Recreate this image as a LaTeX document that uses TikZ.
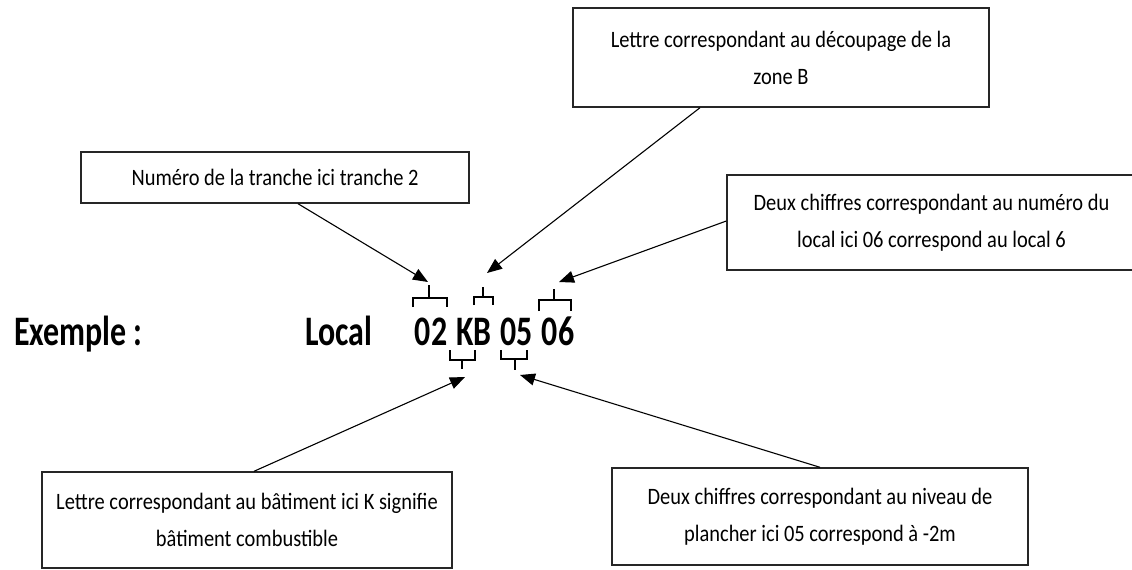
\documentclass[tikz,border=0pt]{standalone}
\usepackage{fontspec}
\setmainfont{Carlito}
\newfontfamily\boxfont[FakeStretch=0.87]{Carlito}
\newfontfamily\bigfont[FakeStretch=0.76]{Carlito}
\usetikzlibrary{arrows.meta}
\begin{document}
\begin{tikzpicture}[x=1pt,y=-1pt,
  box/.style={draw=black!85,line width=1.4pt,align=center,inner sep=0pt,
    font=\boxfont\fontsize{23.5}{37}\selectfont,text=black},
  big/.style={font=\bigfont\fontsize{42}{42}\selectfont\bfseries,inner sep=0pt,anchor=base,text=black},
  brk/.style={draw=black,line width=1.3pt},
  arr/.style={draw=black,line width=1.1pt,-{Triangle[length=15pt,width=12pt]}}]
\useasboundingbox (0,0) rectangle (1132,570);
% boxes
\node[box,minimum width=416pt,minimum height=99pt] (zone) at (781,57.5)
  {Lettre correspondant au découpage de la\\zone B};
\node[box,minimum width=388pt,minimum height=51pt] (tranche) at (275,177.5)
  {Numéro de la tranche ici tranche 2};
\node[box,minimum width=409pt,minimum height=95pt] (local) at (931.5,222.5)
  {Deux chiffres correspondant au numéro du\\local ici 06 correspond au local 6};
\node[box,minimum width=410pt,minimum height=96pt] (bat) at (247,520)
  {Lettre correspondant au bâtiment ici K signifie\\bâtiment combustible};
\node[box,minimum width=416pt,minimum height=97pt] (niv) at (820,516.5)
  {Deux chiffres correspondant au niveau de\\plancher ici 05 correspond à -2m};
% main text
\node[big] (ex) at (78.5,345) {Exemple :};
\node[big] (loc) at (338.5,345) {Local};
\node[big] (c02) at (431,345) {02};
\node[big] (cKB) at (474,345) {KB};
\node[big] (c05) at (516.5,345) {05};
\node[big] (c06) at (558,345) {06};
% brackets above
\draw[brk] (413,307) -- (413,298) -- (447,298) -- (447,307);
\draw[brk] (429,298) -- (429,285) coordinate (t02);
\draw[brk] (474,305) -- (474,297) -- (493,297) -- (493,305);
\draw[brk] (483,297) -- (483,287) coordinate (tB);
\draw[brk] (539,311) -- (539,300) -- (571,300) -- (571,311);
\draw[brk] (554,300) -- (554,289) coordinate (t06);
% brackets below
\draw[brk] (450,350) -- (450,360) -- (475,360) -- (475,350);
\draw[brk] (462,360) -- (462,369) coordinate (tK);
\draw[brk] (501,350) -- (501,359) -- (527,359) -- (527,350);
\draw[brk] (515,359) -- (515,370) coordinate (t05);
% arrows
\coordinate (a1) at (428,282);
\coordinate (a2) at (487,273);
\coordinate (a3) at (559,282);
\coordinate (a4) at (465,377);
\coordinate (a5) at (520,375);
\draw[arr] (tranche.south -| 298,0) -- (a1);
\draw[arr] (zone.south -| 700,0) -- (a2);
\draw[arr] (local.west |- 0,221) -- (a3);
\draw[arr] (bat.north -| 254,0) -- (a4);
\draw[arr] (niv.north) -- (a5);
\end{tikzpicture}
\end{document}
